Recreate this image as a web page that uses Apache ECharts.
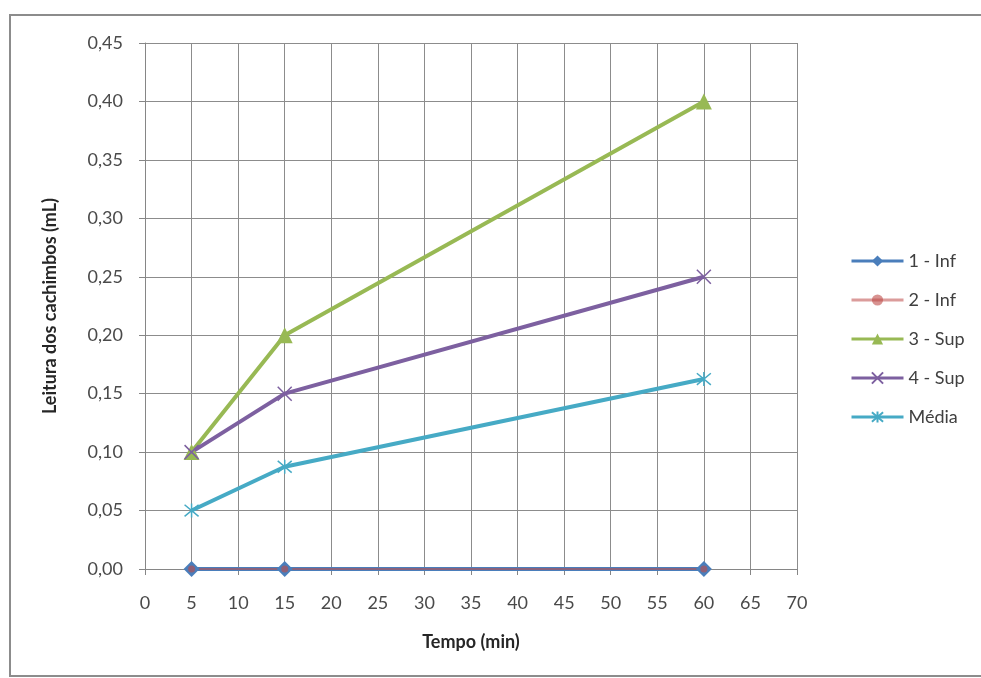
<!DOCTYPE html>
<html>
<head>
<meta charset="utf-8">
<script src="https://cdn.jsdelivr.net/npm/echarts@6/dist/echarts.min.js"></script>
<style>
  html, body { margin: 0; padding: 0; background: #fff; }
  #chart { width: 981px; height: 678px; }
</style>
</head>
<body>
<div id="chart"></div>
<script>
// tempos (min)
var tempo = [5, 15, 60];
// leituras (mL)
var inf1 = [0, 0, 0];
var inf2 = [0, 0, 0];
var sup3 = [0.10, 0.20, 0.40];
var sup4 = [0.10, 0.15, 0.25];
var media = [0.05, 0.0875, 0.1625];

function pares(ys) {
  return tempo.map(function (t, i) { return [t, ys[i]]; });
}

var cruz = 'path://M0,0L10,10M10,0L0,10';
var estrela = 'path://M0,0L10,10M10,0L0,10M5,-1L5,11';
var fonte = 'Lato, "Open Sans", sans-serif';

var chart = echarts.init(document.getElementById('chart'));
chart.setOption({
  animation: false,
  textStyle: { fontFamily: fonte },
  graphic: [{
    type: 'rect',
    shape: { x: 10, y: 15, width: 985, height: 661 },
    style: { fill: 'none', stroke: '#8c8c8c', lineWidth: 2 }
  }],
  grid: {
    left: 145,
    right: 184,
    top: 43,
    bottom: 109
  },
  legend: {
    orient: 'vertical',
    left: 845,
    top: 247,
    itemWidth: 52,
    itemHeight: 14,
    itemGap: 21,
    lineStyle: { width: 3 },
    textStyle: { fontSize: 18, color: '#404040', fontFamily: fonte },
    data: ['1 - Inf', '2 - Inf', '3 - Sup', '4 - Sup', 'Média']
  },
  xAxis: {
    type: 'value',
    min: 0,
    max: 70,
    interval: 5,
    name: 'Tempo (min)',
    nameLocation: 'middle',
    nameGap: 64,
    nameTextStyle: { fontSize: 18, fontWeight: 'bold', color: '#262626', fontFamily: fonte },
    axisLine: { show: true, lineStyle: { color: '#868686' } },
    axisTick: { show: true, length: 6, lineStyle: { color: '#868686' } },
    axisLabel: { fontSize: 18, color: '#4a4a4a', margin: 25 },
    splitLine: { show: true, lineStyle: { color: '#8c8c8c', width: 1 } }
  },
  yAxis: {
    type: 'value',
    min: 0,
    max: 0.45,
    interval: 0.05,
    name: 'Leitura dos cachimbos (mL)',
    nameLocation: 'middle',
    nameGap: 86,
    nameTextStyle: { fontSize: 18, fontWeight: 'bold', color: '#262626', fontFamily: fonte },
    axisLine: { show: true, lineStyle: { color: '#868686' } },
    axisTick: { show: true, length: 6, lineStyle: { color: '#868686' } },
    axisLabel: {
      fontSize: 18,
      color: '#4a4a4a',
      margin: 22,
      formatter: function (v) { return v.toFixed(2).replace('.', ','); }
    },
    splitLine: { show: true, lineStyle: { color: '#8c8c8c', width: 1 } }
  },
  series: [
    {
      name: '1 - Inf',
      type: 'line',
      data: pares(inf1),
      symbol: 'diamond',
      symbolSize: 16,
      lineStyle: { width: 4, color: '#4a7ebb' },
      itemStyle: { color: '#4a7ebb' }
    },
    {
      name: '2 - Inf',
      type: 'line',
      data: pares(inf2),
      symbol: 'circle',
      symbolSize: 7,
      lineStyle: { width: 2, color: '#be4b48', opacity: 0.55 },
      itemStyle: { color: '#be4b48', opacity: 0.6 }
    },
    {
      name: '3 - Sup',
      type: 'line',
      data: pares(sup3),
      symbol: 'triangle',
      symbolSize: 16,
      lineStyle: { width: 4, color: '#98b954' },
      itemStyle: { color: '#98b954' }
    },
    {
      name: '4 - Sup',
      type: 'line',
      data: pares(sup4),
      symbol: cruz,
      symbolSize: 14,
      lineStyle: { width: 4, color: '#7d60a0' },
      itemStyle: { color: '#7d60a0', borderColor: '#7d60a0', borderWidth: 1.5 }
    },
    {
      name: 'Média',
      type: 'line',
      data: pares(media),
      symbol: estrela,
      symbolSize: 14,
      lineStyle: { width: 4, color: '#46aac5' },
      itemStyle: { color: '#46aac5', borderColor: '#46aac5', borderWidth: 1.5 }
    }
  ]
});
</script>
</body>
</html>
